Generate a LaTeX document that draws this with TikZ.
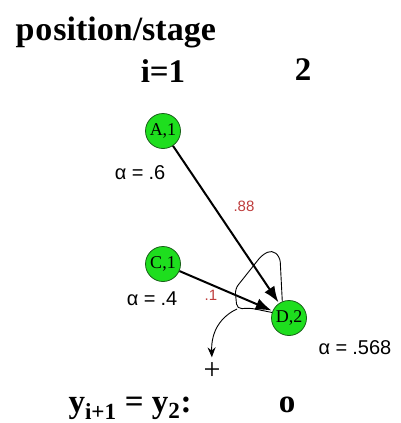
\documentclass[tikz,border=0pt]{standalone}
\usepackage{fontspec}
\setmainfont{Liberation Serif}
\setsansfont{Liberation Sans}
\usepackage{tikz}
\usetikzlibrary{arrows.meta}
\definecolor{nodegreen}{RGB}{30,222,30}
\definecolor{nodeedge}{RGB}{25,95,25}
\definecolor{wred}{RGB}{190,60,60}
\tikzset{
  state/.style={circle,draw=nodeedge,fill=nodegreen,line width=0.8pt,minimum size=35pt,inner sep=0pt,font=\fontsize{18}{18}\selectfont},
  alab/.style={font=\sffamily\fontsize{20}{20}\selectfont},
  wlab/.style={text=wred,font=\sffamily\fontsize{15}{15}\selectfont},
  big/.style={font=\bfseries\fontsize{33}{33}\selectfont},
  trans/.style={line width=2pt,-{Latex[length=16pt,width=12pt]},shorten >=1pt},
}

\begin{document}
\begin{tikzpicture}[x=1pt,y=-1pt]
\useasboundingbox (0,0) rectangle (401,423);
\node[big,anchor=base west,font=\bfseries\fontsize{34}{34}\selectfont] (title) at (12,40) {p\kern1pt o\kern1pt sition/stage};
\node[big,anchor=base] (st1) at (163,82) {i=1};
\node[big,anchor=base] (st2) at (303,80) {2};

\node[state] (A1) at (163,131) {A,1};
\node[state] (C1) at (163,264) {C,1};
\node[state] (D2) at (289,318) {D,2};

\node[alab] (alA) at (140,173) {α =\hspace{5pt}.6};
\node[alab] (alC) at (152,299) {α =\hspace{5pt}.4};
\node[alab] (alD) at (355,348) {α =\hspace{5pt}.568};
\node[wlab] (wA) at (244,206) {.88};
\node[wlab] (wC) at (211,295) {.1};

\draw[trans] (A1) -- (D2);
\draw[trans] (C1) -- (D2);

% loop back into D,2
\coordinate (lt) at (280,257);
\coordinate (ll) at (235,289);
\coordinate (lb) at (237,309);
\draw[line width=0.9pt,rounded corners=5pt] (D2.112) -- (lt) -- (272,250) -- (262,255) -- (ll) -- (lb) -- (250,308) -- (D2.162);

\node[font=\fontsize{30}{30}\selectfont,inner sep=1pt] (plus) at (212,371) {+};
\draw[line width=0.9pt,-{Stealth[length=10pt,width=8pt]},shorten >=4pt] (lb) .. controls (222,316) and (211,330) .. (plus.north);

\node[big,anchor=base west] (yrow) at (65,412) {y\textsubscript{i+1} = y\textsubscript{2}:};
\node[big,anchor=base] (yval) at (287,412) {o};
\end{tikzpicture}
\end{document}
